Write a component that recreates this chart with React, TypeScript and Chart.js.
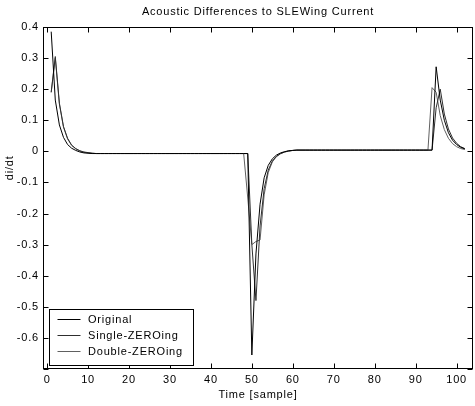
import React, { useEffect, useRef } from "react";
import { Chart, registerables } from "chart.js";

Chart.register(...registerables);

const chartTitle = "Acoustic Differences to SLEWing Current";
const xAxisTitle = "Time [sample]";
const yAxisTitle = "di/dt";
const seriesNames = ["Original", "Single-ZEROing", "Double-ZEROing"];
const seriesColors = ["#000000", "#2e2e2e", "#606060"];

const xTicks = [0, 10, 20, 30, 40, 50, 60, 70, 80, 90, 100];
const yTicks = [-0.7, -0.6, -0.5, -0.4, -0.3, -0.2, -0.1, 0, 0.1, 0.2, 0.3, 0.4];

const samples = [
  1, 2, 3, 4, 5, 6, 7, 8, 9, 10, 11, 12, 13, 14, 15, 16, 17, 18, 19, 20,
  21, 22, 23, 24, 25, 26, 27, 28, 29, 30, 31, 32, 33, 34, 35, 36, 37, 38, 39, 40,
  41, 42, 43, 44, 45, 46, 47, 48, 49, 50, 51, 52, 53, 54, 55, 56, 57, 58, 59, 60,
  61, 62, 63, 64, 65, 66, 67, 68, 69, 70, 71, 72, 73, 74, 75, 76, 77, 78, 79, 80,
  81, 82, 83, 84, 85, 86, 87, 88, 89, 90, 91, 92, 93, 94, 95, 96, 97, 98, 99, 100,
  101, 102,
];

const original = [
  0.385, 0.165, 0.085, 0.045, 0.022, 0.01, 0.003, -0.002, -0.005, -0.006,
  -0.007, -0.007, -0.007, -0.007, -0.007, -0.007, -0.007, -0.007, -0.007, -0.007,
  -0.007, -0.007, -0.007, -0.007, -0.007, -0.007, -0.007, -0.007, -0.007, -0.007,
  -0.007, -0.007, -0.007, -0.007, -0.007, -0.007, -0.007, -0.007, -0.007, -0.007,
  -0.007, -0.007, -0.007, -0.007, -0.007, -0.007, -0.007, -0.007, -0.007, -0.655,
  -0.33, -0.17, -0.085, -0.045, -0.024, -0.012, -0.005, -0.001, 0.002, 0.003,
  0.004, 0.004, 0.004, 0.004, 0.004, 0.004, 0.004, 0.004, 0.004, 0.004,
  0.004, 0.004, 0.004, 0.004, 0.004, 0.004, 0.004, 0.004, 0.004, 0.004,
  0.004, 0.004, 0.004, 0.004, 0.004, 0.004, 0.004, 0.004, 0.004, 0.004,
  0.004, 0.004, 0.004, 0.004, 0.272, 0.165, 0.1, 0.06, 0.036, 0.022,
  0.013, 0.008,
];

const singleZeroing = [
  0.19, 0.305, 0.155, 0.08, 0.042, 0.02, 0.009, 0.002, -0.002, -0.004,
  -0.006, -0.007, -0.007, -0.007, -0.007, -0.007, -0.007, -0.007, -0.007, -0.007,
  -0.007, -0.007, -0.007, -0.007, -0.007, -0.007, -0.007, -0.007, -0.007, -0.007,
  -0.007, -0.007, -0.007, -0.007, -0.007, -0.007, -0.007, -0.007, -0.007, -0.007,
  -0.007, -0.007, -0.007, -0.007, -0.007, -0.007, -0.007, -0.007, -0.007, -0.3,
  -0.48, -0.24, -0.12, -0.06, -0.031, -0.016, -0.007, -0.002, 0.001, 0.003,
  0.004, 0.004, 0.004, 0.004, 0.004, 0.004, 0.004, 0.004, 0.004, 0.004,
  0.004, 0.004, 0.004, 0.004, 0.004, 0.004, 0.004, 0.004, 0.004, 0.004,
  0.004, 0.004, 0.004, 0.004, 0.004, 0.004, 0.004, 0.004, 0.004, 0.004,
  0.004, 0.004, 0.004, 0.004, 0.14, 0.2, 0.12, 0.072, 0.043, 0.026,
  0.015, 0.009,
];

const doubleZeroing = [
  0.19, 0.3, 0.152, 0.078, 0.04, 0.019, 0.008, 0.001, -0.003, -0.005,
  -0.006, -0.007, -0.007, -0.007, -0.007, -0.007, -0.007, -0.007, -0.007, -0.007,
  -0.007, -0.007, -0.007, -0.007, -0.007, -0.007, -0.007, -0.007, -0.007, -0.007,
  -0.007, -0.007, -0.007, -0.007, -0.007, -0.007, -0.007, -0.007, -0.007, -0.007,
  -0.007, -0.007, -0.007, -0.007, -0.007, -0.007, -0.007, -0.007, -0.15, -0.3,
  -0.29, -0.285, -0.14, -0.068, -0.034, -0.017, -0.008, -0.002, 0.001, 0.003,
  0.004, 0.004, 0.004, 0.004, 0.004, 0.004, 0.004, 0.004, 0.004, 0.004,
  0.004, 0.004, 0.004, 0.004, 0.004, 0.004, 0.004, 0.004, 0.004, 0.004,
  0.004, 0.004, 0.004, 0.004, 0.004, 0.004, 0.004, 0.004, 0.004, 0.004,
  0.004, 0.004, 0.004, 0.205, 0.19, 0.115, 0.07, 0.042, 0.025, 0.015,
  0.009, 0.006,
];

const FONT_FAMILY = "'Liberation Sans', Arial, sans-serif";
const LETTER_SPACING = "0.8px";

const spacingPlugin = {
  id: "letterSpacing",
  beforeUpdate(chart: any) {
    chart.ctx.letterSpacing = LETTER_SPACING;
  },
  beforeLayout(chart: any) {
    chart.ctx.letterSpacing = LETTER_SPACING;
  },
  beforeDraw(chart: any) {
    chart.ctx.letterSpacing = LETTER_SPACING;
  },
};

const framePlugin = {
  id: "matlabFrame",
  afterDraw(chart: any) {
    const { ctx, chartArea: a, scales } = chart;
    const xs = scales.x;
    const ys = scales.y;
    ctx.save();
    ctx.letterSpacing = LETTER_SPACING;
    ctx.strokeStyle = "#000";
    ctx.lineWidth = 1;
    const L = Math.round(a.left) + 0.5;
    const R = Math.round(a.right) - 0.5;
    const T = Math.round(a.top) + 0.5;
    const B = Math.round(a.bottom) - 0.5;
    ctx.strokeRect(L, T, R - L, B - T);
    ctx.beginPath();
    const tl = 5;
    for (const t of xs.ticks) {
      const px = Math.round(xs.getPixelForValue(t.value)) + 0.5;
      ctx.moveTo(px, B);
      ctx.lineTo(px, B - tl);
      ctx.moveTo(px, T);
      ctx.lineTo(px, T + tl);
    }
    for (const t of ys.ticks) {
      const py = Math.round(ys.getPixelForValue(t.value)) + 0.5;
      ctx.moveTo(L, py);
      ctx.lineTo(L + tl, py);
      ctx.moveTo(R, py);
      ctx.lineTo(R - tl, py);
    }
    ctx.stroke();

    ctx.fillStyle = "#000";
    ctx.font = `11px ${FONT_FAMILY}`;

    // chart title, centred over the plot area
    ctx.textAlign = "center";
    ctx.textBaseline = "middle";
    ctx.fillText(chartTitle, (a.left + a.right) / 2, a.top - 15);

    // y axis title
    ctx.save();
    ctx.translate(10, ys.getPixelForValue(-0.053));
    ctx.rotate(-Math.PI / 2);
    ctx.fillText(yAxisTitle, 0, 0);
    ctx.restore();

    // legend box
    const bx = Math.round(a.left) + 6.5;
    const by = Math.round(a.bottom) - 59.5;
    const bw = 144;
    const bh = 56;
    ctx.fillStyle = "#fff";
    ctx.fillRect(bx, by, bw, bh);
    ctx.strokeStyle = "#000";
    ctx.strokeRect(bx, by, bw, bh);
    ctx.textAlign = "left";
    ctx.textBaseline = "middle";
    chart.data.datasets.forEach((ds: any, i: number) => {
      const ry = Math.round(by + 9.5 + i * 15.9) + 0.5;
      ctx.strokeStyle = ds.borderColor;
      ctx.lineWidth = 1;
      ctx.beginPath();
      ctx.moveTo(bx + 8, ry);
      ctx.lineTo(bx + 31, ry);
      ctx.stroke();
      ctx.fillStyle = "#000";
      ctx.fillText(ds.label, bx + 38.5, ry);
    });
    ctx.restore();
  },
};

function fmt(v: number): string {
  const r = Math.round(v * 10) / 10;
  if (Math.abs(r + 0.7) < 1e-9) return "";
  return String(r === 0 ? 0 : r);
}

export default function App() {
  const ref = useRef<HTMLCanvasElement | null>(null);

  useEffect(() => {
    if (!ref.current) return;
    const series = [original, singleZeroing, doubleZeroing];
    const chart = new Chart(ref.current, {
      type: "line",
      data: {
        datasets: series.map((vals, i) => ({
          label: seriesNames[i],
          data: samples.map((t, k) => ({ x: t, y: vals[k] })),
          borderColor: seriesColors[i],
          backgroundColor: seriesColors[i],
          borderWidth: 1,
          pointRadius: 0,
          tension: 0,
          fill: false,
        })),
      },
      options: {
        responsive: false,
        animation: false,
        devicePixelRatio: 1,
        layout: { padding: { left: 0, right: 2, top: 27, bottom: 0 } },
        plugins: {
          legend: { display: false },
          tooltip: { enabled: false },
          title: { display: false },
        },
        scales: {
          x: {
            type: "linear",
            min: -1,
            max: 104,
            afterBuildTicks: (s: any) => {
              s.ticks = xTicks.map((v) => ({ value: v }));
            },
            afterFit: (s: any) => {
              s.height = 37;
            },
            grid: { display: false, drawTicks: false, tickLength: 0 },
            border: { display: false },
            ticks: {
              color: "#000",
              font: { family: FONT_FAMILY, size: 11 },
              padding: 4,
              maxRotation: 0,
              autoSkip: false,
              callback: (v: any) => String(v),
            },
            title: {
              display: true,
              text: xAxisTitle,
              color: "#000",
              font: { family: FONT_FAMILY, size: 11 },
              padding: { top: 0, bottom: 4 },
            },
          },
          y: {
            type: "linear",
            min: -0.7,
            max: 0.4,
            afterBuildTicks: (s: any) => {
              s.ticks = yTicks.map((v) => ({ value: v }));
            },
            afterFit: (s: any) => {
              s.width = 43;
            },
            grid: { display: false, drawTicks: false, tickLength: 0 },
            border: { display: false },
            ticks: {
              color: "#000",
              font: { family: FONT_FAMILY, size: 11 },
              padding: 4,
              autoSkip: false,
              callback: (v: any) => fmt(Number(v)),
            },
          },
        },
      },
      plugins: [spacingPlugin, framePlugin],
    } as any);
    return () => chart.destroy();
  }, []);

  return (
    <div style={{ position: "absolute", left: 0, top: 0, width: 475, height: 406, background: "#fff" }}>
      <canvas ref={ref} width={475} height={406} style={{ display: "block" }} />
    </div>
  );
}
